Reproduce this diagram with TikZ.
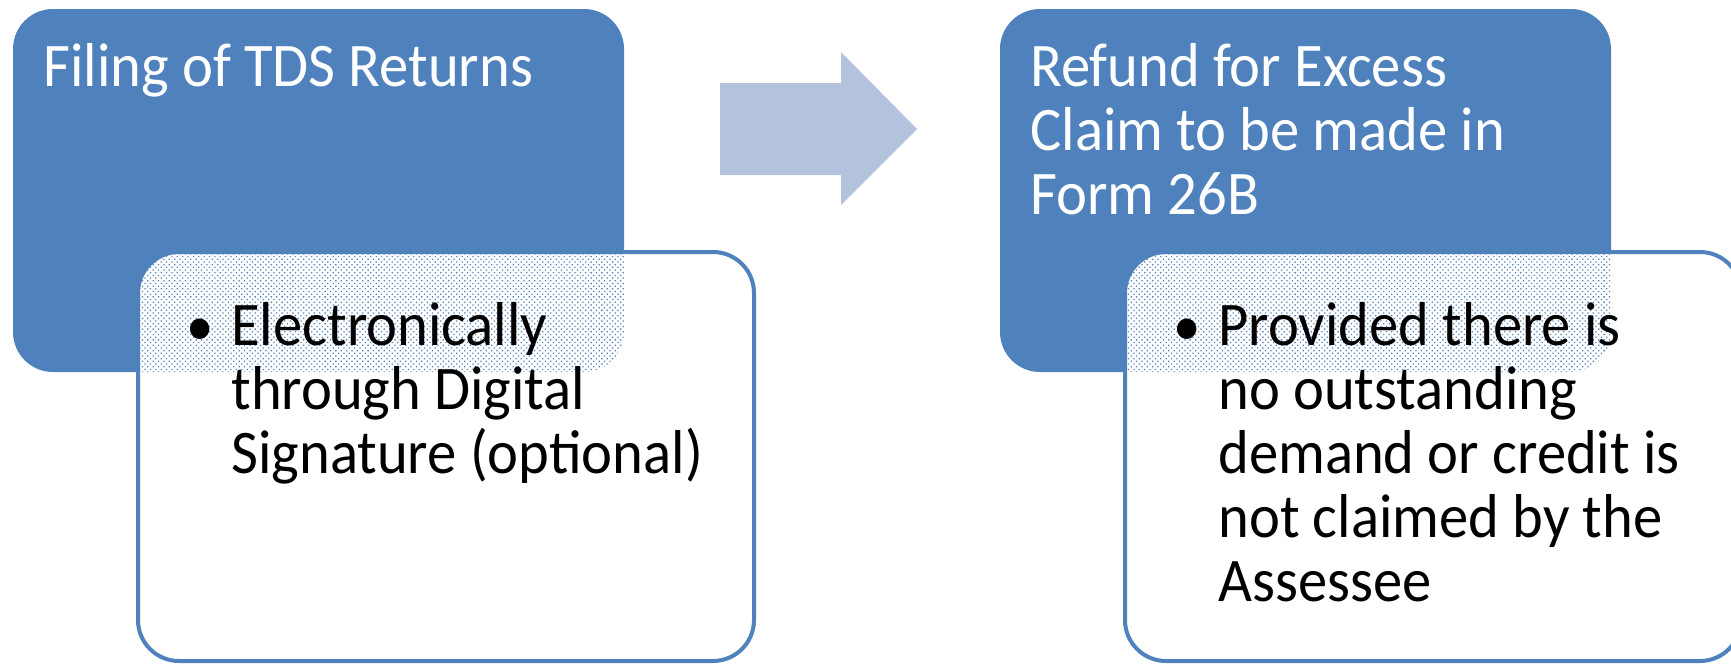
\documentclass[tikz,border=0pt]{standalone}
\usepackage{fontspec}
\setmainfont{Carlito}[FakeStretch=0.945]
\usetikzlibrary{patterns.meta}

\definecolor{tdsblue}{RGB}{79,129,189}
\definecolor{tdsarrow}{RGB}{179,194,221}

\tikzset{
  headbox/.style={fill=tdsblue, rounded corners=20pt},
  notebox/.style={draw=tdsblue, line width=2pt, rounded corners=20.5pt},
  halftone/.style={pattern={Dots[distance=1.9pt, angle=45, radius=0.45pt]}, pattern color=tdsblue},
  headtext/.style={anchor=north west, inner sep=0pt, align=left, text=white,
    font=\fontsize{31}{32}\selectfont},
  notetext/.style={anchor=north west, inner sep=0pt, align=left, text=black,
    font=\fontsize{31}{32}\selectfont},
  bulletmark/.style={anchor=base west, inner sep=0pt, font=\fontsize{29}{32}\selectfont}
}

\begin{document}
\begin{tikzpicture}[x=0.5pt,y=-0.5pt]
  \useasboundingbox (0,0) rectangle (1731,665);

  % first step: blue head, white note laid over it
  \fill[headbox] (13,9) rectangle (624,372);
  \fill[white, rounded corners=20.5pt] (138,252) rectangle (754,661);
  \begin{scope}
    \clip[rounded corners=20pt] (13,9) rectangle (624,372);
    \fill[halftone, rounded corners=20.5pt] (138,252) rectangle (754,661);
  \end{scope}
  \draw[notebox] (138,252) rectangle (754,661);

  \node[headtext] (filing) at (43,41) {\strut Filing of TDS Returns};
  \node[bulletmark] (filingdot) at (186,345) {\textbullet};
  \node[notetext] (filingnote) at (231,300) {\strut Electronically\\through Digital\\Signature (optional)};

  % block arrow between the steps
  \fill[tdsarrow] (720,83) -- (841,83) -- (841,52) -- (917,129) -- (841,205) -- (841,175) -- (720,175) -- cycle;

  % second step
  \fill[headbox] (1000,9) rectangle (1611,372);
  \fill[white, rounded corners=20.5pt] (1125,252) rectangle (1741,661);
  \begin{scope}
    \clip[rounded corners=20pt] (1000,9) rectangle (1611,372);
    \fill[halftone, rounded corners=20.5pt] (1125,252) rectangle (1741,661);
  \end{scope}
  \draw[notebox] (1125,252) rectangle (1741,661);

  \node[headtext] (refund) at (1030,41) {\strut Refund for Excess\\Claim to be made in\\Form 26B};
  \node[bulletmark] (refunddot) at (1173,345) {\textbullet};
  \node[notetext] (refundnote) at (1218,300) {\strut Provided there is\\no outstanding\\demand or credit is\\not claimed by the\\Assessee};
\end{tikzpicture}
\end{document}
